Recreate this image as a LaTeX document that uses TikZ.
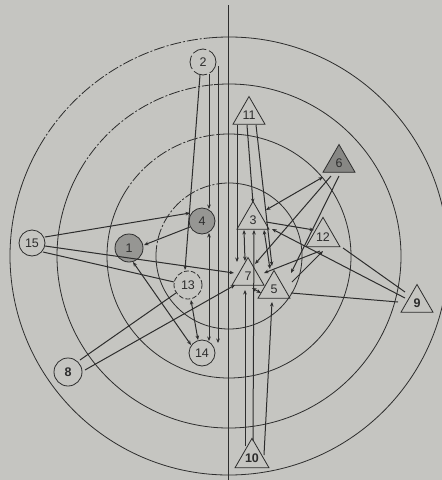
\documentclass[tikz,border=0pt]{standalone}
\usepackage{fontspec}
\setmainfont{Liberation Sans}
\usetikzlibrary{shapes.geometric,arrows.meta,calc}
\definecolor{paper}{RGB}{197,197,193}
\definecolor{ink}{RGB}{45,45,45}
\definecolor{shade}{RGB}{150,150,147}
\definecolor{shadedark}{RGB}{135,135,132}
\begin{document}
\begin{tikzpicture}[x=1pt,y=-1pt,
  line/.style={draw=ink, line width=1pt},
  arr/.style={line, -{Stealth[length=4.5pt,width=3.6pt]}},
  darr/.style={line, {Stealth[length=4.5pt,width=3.6pt]}-{Stealth[length=4.5pt,width=3.6pt]}},
  ring/.style={draw=ink, line width=0.8pt},
  ringdash/.style={ring, dash pattern=on 11pt off 2pt on 2pt off 2pt},
  circ/.style={circle, draw=ink, line width=0.8pt, minimum size=26pt, inner sep=0pt,
    font=\fontsize{12.5}{12.5}\selectfont, text=ink},
  tri/.style={regular polygon, regular polygon sides=3, draw=ink, line width=0.8pt,
    minimum size=37pt, inner sep=0pt, font=\fontsize{12.5}{12.5}\selectfont, text=ink},
  shaded/.style={fill=shade}
]
\fill[paper] (0,0) rectangle (442,480);
\useasboundingbox (0,0) rectangle (442,480);

% rings
\coordinate (O) at (229,256);
\foreach \r in {219,172,122} {
  \draw[ring] ([shift={(265:\r)}]O) arc[start angle=265, end angle=570, radius=\r];
  \draw[ringdash] ([shift={(210:\r)}]O) arc[start angle=210, end angle=265, radius=\r];
}
\draw[ring] ([shift={(270:73)}]O) arc[start angle=270, end angle=540, radius=73];
\draw[ringdash] ([shift={(180:73)}]O) arc[start angle=180, end angle=270, radius=73];

% vertical axis
\coordinate (vtop) at (228,5);
\coordinate (vbot) at (228,480);
\draw[ring] (vtop) -- (vbot);

% nodes
\node[circ, dash pattern=on 14pt off 3pt] (n2) at (203,62) {2};
\node[circ, shaded] (n4) at (202,221) {4};
\node[circ, shaded, minimum size=28pt] (n1) at (129,248) {1};
\node[circ] (n15) at (32,243) {15};
\node[circ, dash pattern=on 5pt off 2pt, minimum size=28pt] (n13) at (188,285) {13};
\node[circ] (n14) at (202,353) {14};
\node[circ, minimum size=28pt, font=\fontsize{12.5}{12.5}\selectfont\bfseries] (n8) at (68,372) {8};

\node[tri] (n11) at (249,115) {11};
\node[tri, fill=shadedark] (n6) at (339,163) {6};
\node[tri] (n3) at (253,220) {3};
\node[tri, minimum size=39pt] (n12) at (323,237) {12};
\node[tri] (n7) at (248,276) {7};
\node[tri] (n5) at (274,289) {5};
\node[tri, font=\fontsize{12.5}{12.5}\selectfont\bfseries] (n9) at (417,303) {9};
\node[tri, font=\fontsize{12.5}{12.5}\selectfont\bfseries] (n10) at (252,458) {10};

% connectors
\draw[arr] ([shift={(-3,13)}]n2.center) -- ([shift={(-3,-15)}]n13.center);
\draw[arr] ([shift={(6,12)}]n2.center) -- ([shift={(7,-12)}]n4.center);
\draw[arr] ([shift={(15,4)}]n2.center) -- ([shift={(16,-10)}]n14.center);
\draw[darr] ([shift={(7,12)}]n4.center) -- ([shift={(7,-12)}]n14.center);
\draw[darr] ([shift={(3,15)}]n13.center) -- ([shift={(-4,-13)}]n14.center);
\draw[darr] ([shift={(4,14)}]n1.center) -- ([shift={(-11,-8)}]n14.center);
\draw[arr] ([shift={(-12,6)}]n4.center) -- ([shift={(15,-3)}]n1.center);
\draw[arr] ([shift={(13,-6)}]n15.center) -- ([shift={(-12,-8)}]n4.center);
\draw[arr] ([shift={(13,3)}]n15.center) -- ([shift={(-14,-3)}]n7.center);
\draw[line] ([shift={(11,9)}]n15.center) -- ([shift={(-14,-3)}]n13.center);
\draw[line] ([shift={(12,-12)}]n8.center) -- ([shift={(-12,8)}]n13.center);
\draw[arr] ([shift={(17,-2)}]n8.center) -- ([shift={(-13,9)}]n7.center);
\draw[darr] ([shift={(-16,14)}]n6.center) -- ([shift={(13,-10)}]n3.center);
\draw[arr] ([shift={(-8,13)}]n6.center) -- ([shift={(7,-12)}]n7.center);
\draw[arr] ([shift={(0,13)}]n6.center) -- ([shift={(17,-16)}]n5.center);
\draw[arr] ([shift={(13,2)}]n3.center) -- ([shift={(-9,-7)}]n12.center);
\draw[arr] ([shift={(-12,-5)}]n9.center) -- ([shift={(19,9)}]n3.center);
\draw[line] ([shift={(-12,-11)}]n9.center) -- ([shift={(20,11)}]n12.center);
\draw[line] ([shift={(-19,-1)}]n9.center) -- ([shift={(17,4)}]n5.center);
\draw[arr] ([shift={(-3,14)}]n12.center) -- ([shift={(16,-3)}]n7.center);
\draw[arr] ([shift={(18,-7)}]n5.center) -- ([shift={(0,14)}]n12.center);
\draw[arr] ([shift={(-12,10)}]n11.center) -- ([shift={(-11,-14)}]n7.center);
\draw[arr] ([shift={(-2,10)}]n11.center) -- ([shift={(0,-17)}]n3.center);
\draw[arr] ([shift={(7,10)}]n11.center) -- ([shift={(-2,-23)}]n5.center);
\draw[darr] ([shift={(-9,10)}]n3.center) -- ([shift={(-3,-15)}]n7.center);
\draw[arr] ([shift={(1,-17)}]n10.center) -- ([shift={(1,10)}]n3.center);
\draw[arr] ([shift={(-7,-12)}]n10.center) -- ([shift={(-3,14)}]n7.center);
\draw[arr] ([shift={(12,-3)}]n10.center) -- ([shift={(-2,13)}]n5.center);
\draw[darr] ([shift={(4,12)}]n7.center) -- ([shift={(-13,4)}]n5.center);
\draw[darr] ([shift={(11,10)}]n3.center) -- ([shift={(-4,-20)}]n5.center);
\end{tikzpicture}
\end{document}
